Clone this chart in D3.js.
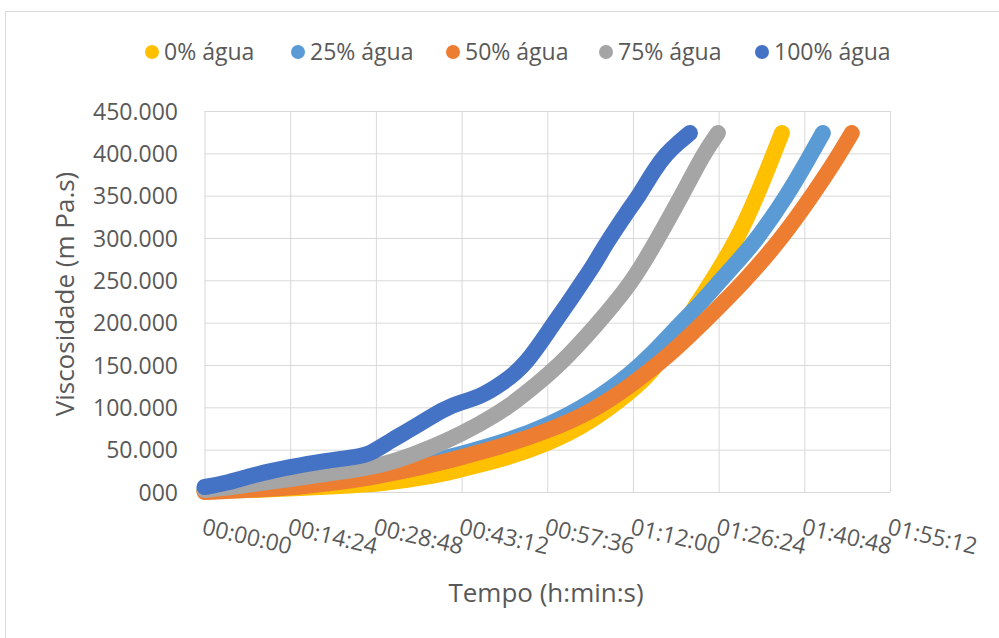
<!DOCTYPE html>
<html><head><meta charset="utf-8">
<script src="https://cdn.jsdelivr.net/npm/d3@7/dist/d3.min.js"></script>
<style>
body{margin:0;background:#fff}
svg{display:block}
text{font-family:"Open Sans",sans-serif;fill:#595959}
</style>
</head><body>
<svg id="chart" width="999" height="638"></svg>
<script>
// ---------- data ----------
const seriesNames = ["0% água", "25% água", "50% água", "75% água", "100% água"];

// tempo em segundos, viscosidade em m Pa.s
const time0 = [0, 559, 963, 1366, 1769, 2172, 2444, 2596, 3049, 3453, 3886, 4320, 4492, 4693, 4905, 5117, 5379, 5570, 5742, 5822];
const visc0 = [1200, 2400, 4700, 7100, 9400, 16500, 22400, 27200, 40200, 56700, 81500, 120500, 139400, 171300, 211400, 249200, 300000, 349600, 400400, 424000];

const time25 = [0, 559, 963, 1366, 1769, 2172, 2596, 3049, 3453, 3886, 4320, 4492, 4804, 4995, 5197, 5399, 5580, 5872, 6083, 6235];
const visc25 = [2400, 4700, 8300, 14200, 21300, 33100, 44900, 60200, 78000, 103900, 141700, 160600, 199600, 222000, 249200, 275200, 300000, 349600, 392100, 424000];

const time50 = [0, 464, 963, 1366, 1769, 2374, 2596, 3049, 3453, 3886, 4320, 4492, 4663, 5026, 5450, 5823, 6124, 6366, 6527];
const visc50 = [0, 2400, 5900, 11800, 18900, 34300, 41300, 55500, 72000, 93300, 127600, 144100, 159400, 199600, 249200, 300000, 349600, 392100, 424000];

const time75 = [0, 358, 862, 1366, 1769, 2102, 2444, 2777, 3049, 3281, 3584, 3937, 4310, 4562, 4804, 5036, 5177];
const visc75 = [2400, 7100, 15400, 23600, 30700, 43700, 60200, 80300, 99200, 120500, 150000, 194900, 246800, 297600, 348400, 400400, 424000];

const time100 = [0, 187, 529, 862, 1195, 1537, 1668, 1870, 2102, 2424, 2596, 2777, 3009, 3241, 3523, 3654, 3816, 3937, 4018, 4088, 4260, 4380, 4532, 4663, 4774, 4895];
const visc100 = [5900, 9400, 21300, 29500, 36600, 41300, 44900, 60200, 75600, 99200, 106300, 112200, 128700, 150000, 199600, 220900, 249200, 270500, 287000, 300000, 330700, 349600, 380300, 400400, 412200, 424000];

const xTickValues = [0, 864, 1728, 2592, 3456, 4320, 5184, 6048, 6912];
const xTickLabels = ["00:00:00", "00:14:24", "00:28:48", "00:43:12", "00:57:36", "01:12:00", "01:26:24", "01:40:48", "01:55:12"];
const yTickValues = [0, 50000, 100000, 150000, 200000, 250000, 300000, 350000, 400000, 450000];
const yTickLabels = ["000", "50.000", "100.000", "150.000", "200.000", "250.000", "300.000", "350.000", "400.000", "450.000"];

const xTitle = "Tempo (h:min:s)";
const yTitle = "Viscosidade (m Pa.s)";

// ---------- styles ----------
const colors = ["#FFC000", "#5B9BD5", "#ED7D31", "#A5A5A5", "#4472C4"];
const times = [time0, time25, time50, time75, time100];
const viscs = [visc0, visc25, visc50, visc75, visc100];

const svg = d3.select("#chart");
const plot = {left: 204.5, right: 890, top: 111, bottom: 492};

// outer chart border
svg.append("rect").attr("x", 5.5).attr("y", 11.5).attr("width", 1100).attr("height", 700)
  .attr("fill", "#fff").attr("stroke", "#D9D9D9").attr("stroke-width", 1);

const x = d3.scaleLinear().domain([0, 6912]).range([plot.left, plot.right]);
const y = d3.scaleLinear().domain([0, 450000]).range([plot.bottom, plot.top]);

// gridlines
const gx = svg.append("g").attr("transform", `translate(0,${plot.bottom})`)
  .call(d3.axisBottom(x).tickValues(xTickValues).tickSize(-(plot.bottom - plot.top)).tickFormat(""));
gx.select(".domain").remove();
gx.selectAll("line").attr("stroke", "#D9D9D9").attr("stroke-width", 1);

const gy = svg.append("g").attr("transform", `translate(${plot.left},0)`)
  .call(d3.axisLeft(y).tickValues(yTickValues).tickSize(-(plot.right - plot.left)).tickFormat(""));
gy.select(".domain").remove();
gy.selectAll("line").attr("stroke", "#D9D9D9").attr("stroke-width", 1);

// y tick labels
const yAx = svg.append("g").attr("transform", `translate(178,0)`)
  .call(d3.axisLeft(y).tickValues(yTickValues).tickSize(0).tickPadding(0)
    .tickFormat((d, i) => yTickLabels[i]));
yAx.select(".domain").remove();
yAx.selectAll("text").attr("font-size", 23).attr("fill", "#595959")
  .attr("font-family", "Open Sans").attr("dy", "0.36em");

// x tick labels (rotated)
const xAx = svg.append("g").attr("transform", `translate(0,${plot.bottom})`)
  .call(d3.axisBottom(x).tickValues(xTickValues).tickSize(0)
    .tickFormat((d, i) => xTickLabels[i]));
xAx.select(".domain").remove();
xAx.selectAll(".tick text")
  .attr("font-size", 23).attr("fill", "#595959").attr("font-family", "Open Sans")
  .attr("text-anchor", "start").attr("y", 0).attr("dy", 0)
  .attr("transform", "translate(-4,42) rotate(13)");

// series
const line = d3.line().x(d => x(d[0])).y(d => y(d[1])).curve(d3.curveBasis);
seriesNames.forEach((name, i) => {
  const pts = times[i].map((t, j) => [t, viscs[i][j]]);
  svg.append("path").datum(pts)
    .attr("d", line)
    .attr("fill", "none")
    .attr("stroke", colors[i])
    .attr("stroke-width", 16)
    .attr("stroke-linecap", "round")
    .attr("stroke-linejoin", "round");
});

// axis titles
svg.append("text").attr("x", 546).attr("y", 602).attr("text-anchor", "middle")
  .attr("font-size", 26).text(xTitle);
svg.append("text").attr("transform", "translate(74,294) rotate(-90)").attr("text-anchor", "middle")
  .attr("font-size", 26).text(yTitle);

// legend
const legendX = [152, 298, 453, 606, 762];
const leg = svg.append("g");
seriesNames.forEach((name, i) => {
  leg.append("circle").attr("cx", legendX[i]).attr("cy", 52).attr("r", 7).attr("fill", colors[i]);
  leg.append("text").attr("x", legendX[i] + 12).attr("y", 52).attr("dy", "0.36em")
    .attr("font-size", 23).text(name);
});
</script>
</body></html>
